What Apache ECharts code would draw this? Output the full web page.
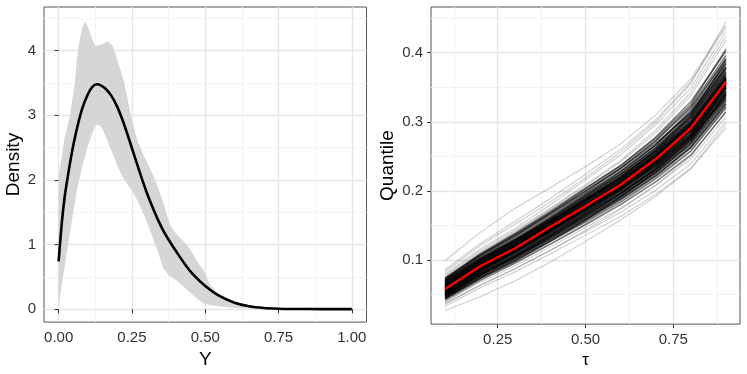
<!DOCTYPE html>
<html>
<head>
<meta charset="utf-8">
<script src="https://cdn.jsdelivr.net/npm/echarts@6/dist/echarts.min.js"></script>
<style>
    html, body { margin: 0; padding: 0; background: #fff; }
    #chart { width: 747px; height: 374px; }
</style>
</head>
<body>
<div id="chart"></div>
<script>
// left panel: posterior mean density with band
var meanX = [0, 0.01, 0.02, 0.03, 0.045, 0.06, 0.08, 0.1, 0.115, 0.13, 0.145, 0.16, 0.18, 0.2, 0.22, 0.24, 0.26, 0.28, 0.3, 0.32, 0.34, 0.36, 0.38, 0.4, 0.43, 0.46, 0.5, 0.55, 0.6, 0.65, 0.7, 0.75, 0.8, 0.9, 1.0];
var meanY = [0.74, 1.3, 1.72, 2.02, 2.42, 2.75, 3.1, 3.33, 3.44, 3.48, 3.46, 3.41, 3.3, 3.13, 2.9, 2.63, 2.35, 2.07, 1.81, 1.58, 1.37, 1.19, 1.04, 0.9, 0.7, 0.53, 0.36, 0.2, 0.1, 0.045, 0.018, 0.007, 0.003, 0.001, 0];

var upperX = [0, 0.019, 0.036, 0.054, 0.065, 0.08, 0.091, 0.105, 0.124, 0.145, 0.169, 0.185, 0.196, 0.224, 0.247, 0.269, 0.292, 0.313, 0.338, 0.36, 0.38, 0.4, 0.426, 0.45, 0.472, 0.495, 0.517, 0.545, 0.574, 0.6, 0.631, 0.67, 0.72, 0.8, 0.9, 1.0];
var upperY = [2.05, 2.62, 2.95, 3.45, 4.0, 4.35, 4.45, 4.3, 4.07, 4.09, 4.15, 4.06, 3.92, 3.5, 2.98, 2.6, 2.36, 2.16, 1.9, 1.6, 1.3, 1.17, 1.05, 0.92, 0.74, 0.6, 0.37, 0.24, 0.15, 0.09, 0.05, 0.025, 0.01, 0.003, 0.001, 0];

var lowerX = [0, 0.015, 0.031, 0.048, 0.065, 0.082, 0.099, 0.115, 0.127, 0.14, 0.15, 0.165, 0.184, 0.2, 0.218, 0.235, 0.252, 0.272, 0.292, 0.313, 0.336, 0.358, 0.375, 0.4, 0.438, 0.47, 0.494, 0.52, 0.54, 0.6, 0.7, 0.8, 1.0];
var lowerY = [0.05, 0.5, 0.97, 1.45, 1.9, 2.23, 2.52, 2.73, 2.85, 2.84, 2.78, 2.62, 2.41, 2.22, 2.05, 1.93, 1.82, 1.65, 1.45, 1.2, 0.92, 0.62, 0.53, 0.45, 0.3, 0.17, 0.09, 0.06, 0.05, 0.02, 0.005, 0.001, 0];

// right panel: quantile curves (values in thousandths)
var tauValues = [0.1, 0.2, 0.3, 0.4, 0.5, 0.6, 0.7, 0.8, 0.9];
var redLine = [0.058, 0.091, 0.117, 0.148, 0.178, 0.209, 0.246, 0.291, 0.358];

// the few curves far from the bulk
var outerLines = [
    [99, 140, 175, 205, 235, 268, 310, 362, 440],
    [27, 47, 70, 97, 127, 158, 192, 232, 291],
    [83, 121, 152, 184, 219, 256, 300, 355, 445],
    [80, 116, 146, 180, 216, 252, 296, 349, 431],
    [76, 111, 141, 174, 207, 242, 284, 338, 418],
    [39, 68, 92, 119, 147, 175, 208, 246, 307],
    [36, 64, 88, 114, 141, 169, 201, 239, 300],
    [33, 60, 83, 109, 136, 163, 195, 233, 296],
    [78, 113, 143, 175, 209, 244, 288, 343, 424],
    [40, 70, 95, 123, 152, 182, 216, 257, 322],
    [86, 124, 156, 189, 224, 260, 303, 358, 437],
    [37, 63, 87, 114, 143, 173, 208, 250, 315]
];

// the dense bulk
var innerLines = [
    [74, 108, 137, 169, 203, 236, 278, 329, 402],
    [72, 106, 135, 166, 198, 233, 273, 322, 396],
    [70, 103, 131, 162, 195, 228, 266, 314, 386],
    [68, 101, 129, 159, 191, 224, 262, 309, 380],
    [66, 99, 127, 157, 189, 221, 259, 305, 372],
    [65, 97, 125, 155, 186, 218, 256, 301, 369],
    [63, 95, 122, 152, 183, 215, 252, 298, 365],
    [61, 93, 120, 150, 181, 212, 249, 294, 362],
    [60, 92, 119, 149, 180, 211, 248, 293, 358],
    [59, 91, 118, 147, 178, 209, 246, 290, 356],
    [57, 89, 116, 146, 177, 208, 245, 289, 354],
    [56, 88, 115, 144, 175, 206, 242, 286, 350],
    [54, 86, 113, 142, 172, 203, 239, 283, 347],
    [53, 84, 111, 140, 170, 200, 236, 279, 343],
    [51, 82, 109, 138, 168, 198, 233, 275, 339],
    [50, 81, 107, 136, 165, 195, 230, 272, 335],
    [48, 79, 105, 133, 162, 192, 226, 268, 331],
    [46, 76, 102, 130, 159, 188, 222, 263, 326],
    [44, 74, 99, 127, 155, 184, 218, 258, 320],
    [42, 71, 96, 123, 151, 180, 213, 252, 314],
    [62, 98, 128, 160, 193, 225, 263, 311, 384],
    [55, 85, 112, 144, 178, 213, 254, 303, 376],
    [67, 98, 124, 152, 181, 211, 246, 288, 349],
    [49, 83, 112, 143, 175, 207, 244, 289, 361],
    [71, 107, 137, 168, 200, 232, 269, 312, 378],
    [45, 73, 98, 127, 158, 191, 229, 276, 349],
    [58, 94, 124, 156, 188, 220, 257, 300, 366],
    [64, 93, 118, 145, 173, 203, 238, 282, 352],
    [69, 102, 130, 161, 193, 227, 266, 317, 392],
    [52, 85, 113, 143, 173, 203, 237, 278, 338],
    [60, 92, 121, 152, 185, 219, 259, 309, 389],
    [56, 87, 114, 143, 172, 202, 236, 277, 334],
    [73, 109, 139, 171, 204, 237, 276, 325, 405],
    [47, 78, 104, 132, 161, 191, 226, 270, 341],
    [73, 106, 135, 167, 200, 233, 272, 320, 390],
    [71, 104, 133, 164, 196, 229, 267, 314, 383],
    [70, 102, 130, 160, 192, 224, 262, 308, 377],
    [68, 100, 128, 158, 190, 222, 259, 305, 373],
    [67, 99, 127, 157, 188, 219, 256, 301, 368],
    [66, 97, 124, 154, 185, 216, 253, 298, 366],
    [64, 96, 123, 153, 184, 215, 252, 297, 363],
    [63, 94, 121, 151, 182, 213, 250, 295, 361],
    [62, 94, 121, 150, 181, 212, 249, 294, 359],
    [61, 93, 120, 150, 181, 212, 248, 293, 360],
    [60, 92, 119, 148, 179, 210, 247, 292, 357],
    [59, 91, 118, 148, 179, 210, 246, 291, 355],
    [58, 90, 117, 147, 178, 209, 246, 291, 358],
    [57, 89, 116, 146, 177, 208, 245, 290, 356],
    [56, 88, 115, 145, 176, 207, 243, 288, 353],
    [55, 87, 114, 144, 175, 206, 242, 286, 351],
    [54, 86, 113, 143, 174, 204, 240, 284, 349],
    [53, 85, 112, 141, 172, 203, 238, 282, 346],
    [52, 84, 111, 140, 171, 201, 236, 280, 344],
    [51, 83, 110, 139, 169, 199, 234, 278, 341],
    [50, 81, 108, 137, 167, 197, 232, 275, 338],
    [49, 80, 107, 136, 166, 196, 230, 273, 335],
    [48, 79, 105, 134, 164, 194, 228, 270, 332],
    [47, 77, 103, 132, 162, 192, 226, 267, 329],
    [45, 75, 101, 130, 159, 189, 223, 264, 326],
    [44, 74, 100, 128, 157, 187, 221, 262, 323],
    [61, 95, 124, 155, 186, 217, 253, 297, 362],
    [55, 86, 112, 142, 174, 206, 244, 291, 360],
    [64, 95, 121, 149, 179, 210, 247, 293, 361],
    [52, 85, 113, 144, 176, 208, 246, 292, 364],
    [66, 99, 127, 156, 186, 216, 250, 292, 352],
    [50, 80, 106, 136, 168, 201, 240, 287, 356],
    [59, 93, 122, 153, 184, 215, 251, 294, 357],
    [57, 87, 113, 142, 173, 205, 243, 290, 363],
    [69, 101, 128, 157, 188, 220, 258, 306, 379],
    [46, 78, 105, 135, 165, 196, 231, 274, 340],
    [62, 92, 118, 147, 178, 210, 249, 298, 371],
    [53, 87, 116, 146, 176, 206, 240, 281, 343],
    [65, 98, 126, 156, 187, 218, 254, 297, 360],
    [48, 78, 104, 133, 164, 196, 233, 279, 349]
];

// tick labels and grid breaks
var leftXTicks = [0, 0.25, 0.5, 0.75, 1];
var leftXMinor = [0.125, 0.375, 0.625, 0.875];
var leftYTicks = [0, 1, 2, 3, 4];
var leftYMinor = [0.5, 1.5, 2.5, 3.5, 4.5];
var rightXTicks = [0.25, 0.5, 0.75];
var rightXMinor = [0.125, 0.375, 0.625, 0.875];
var rightYTicks = [0.1, 0.2, 0.3, 0.4];
var rightYMinor = [0.05, 0.15, 0.25, 0.35, 0.45];

var FONT = 'Liberation Sans, Arial, sans-serif';
var MAJOR = '#E6E6E6';
var MINOR = '#F3F3F3';

function mainAxis(gridIndex, min, max, ticks, fmt, name, nameGap, nameSize) {
    return {
        type: 'value',
        gridIndex: gridIndex,
        min: min,
        max: max,
        name: name,
        nameLocation: 'middle',
        nameGap: nameGap,
        nameTextStyle: { color: '#000', fontSize: nameSize, fontFamily: FONT },
        axisLine: { show: false },
        axisTick: { show: true, length: 4, customValues: ticks, lineStyle: { color: '#333', width: 1 } },
        axisLabel: { customValues: ticks, formatter: fmt, color: '#333', fontSize: 15, fontFamily: FONT, margin: 8 },
        splitLine: { show: true, lineStyle: { color: MAJOR, width: 1.4 } }
    };
}

function minorAxis(gridIndex, min, max, ticks) {
    return {
        type: 'value',
        gridIndex: gridIndex,
        min: min,
        max: max,
        axisLine: { show: false },
        axisTick: { show: false, customValues: ticks },
        axisLabel: { show: false, customValues: ticks },
        splitLine: { show: true, lineStyle: { color: MINOR, width: 1 } }
    };
}

function quantileSeries(row, color, width) {
    return {
        type: 'line',
        xAxisIndex: 2,
        yAxisIndex: 2,
        data: tauValues.map(function (t, i) { return [t, row[i] / 1000]; }),
        showSymbol: false,
        silent: true,
        z: 2,
        lineStyle: { color: color, width: width }
    };
}

var chart = echarts.init(document.getElementById('chart'), null, { renderer: 'canvas' });

var series = [];

// uncertainty band
series.push({
    type: 'custom',
    xAxisIndex: 0,
    yAxisIndex: 0,
    silent: true,
    z: 1,
    data: [[0, 0]],
    renderItem: function (params, api) {
        var pts = [];
        for (var i = 0; i < upperX.length; i++) {
            pts.push(api.coord([upperX[i], upperY[i]]));
        }
        for (var j = lowerX.length - 1; j >= 0; j--) {
            pts.push(api.coord([lowerX[j], lowerY[j]]));
        }
        return { type: 'polygon', shape: { points: pts }, style: { fill: '#D6D6D6' } };
    }
});

series.push({
    type: 'line',
    xAxisIndex: 0,
    yAxisIndex: 0,
    data: meanX.map(function (x, i) { return [x, meanY[i]]; }),
    showSymbol: false,
    smooth: 0.3,
    silent: true,
    z: 3,
    lineStyle: { color: '#000', width: 2.6 }
});

outerLines.forEach(function (row) {
    series.push(quantileSeries(row, 'rgba(0,0,0,0.2)', 1.1));
});
innerLines.forEach(function (row) {
    series.push(quantileSeries(row, 'rgba(0,0,0,0.5)', 1.5));
});

series.push({
    type: 'line',
    xAxisIndex: 2,
    yAxisIndex: 2,
    data: tauValues.map(function (t, i) { return [t, redLine[i]]; }),
    showSymbol: false,
    silent: true,
    z: 4,
    lineStyle: { color: '#FF0000', width: 2.4 }
});

var option = {
    animation: false,
    backgroundColor: '#fff',
    grid: [
        { left: 44, top: 7, width: 322.5, height: 316, show: true, borderColor: '#555', borderWidth: 1, backgroundColor: '#fff' },
        { left: 431, top: 7, width: 309, height: 318, show: true, borderColor: '#555', borderWidth: 1, backgroundColor: '#fff' }
    ],
    xAxis: [
        mainAxis(0, -0.05, 1.05, leftXTicks, function (v) { return v.toFixed(2); }, 'Y', 19, 19),
        minorAxis(0, -0.05, 1.05, leftXMinor),
        mainAxis(1, 0.06, 0.94, rightXTicks, function (v) { return v.toFixed(2); }, 'τ', 24, 17),
        minorAxis(1, 0.06, 0.94, rightXMinor)
    ],
    yAxis: [
        mainAxis(0, -0.2, 4.675, leftYTicks, function (v) { return String(v); }, 'Density', 20, 19),
        minorAxis(0, -0.2, 4.675, leftYMinor),
        mainAxis(1, 0.0073, 0.466, rightYTicks, function (v) { return v.toFixed(1); }, 'Quantile', 34, 19),
        minorAxis(1, 0.0073, 0.466, rightYMinor)
    ],
    series: series
};

chart.setOption(option);
</script>
</body>
</html>
